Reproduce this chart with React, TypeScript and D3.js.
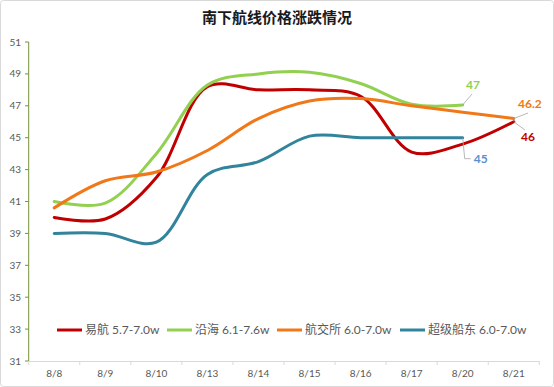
import React, { useRef, useEffect } from "react";
import * as d3 from "d3";

const categories = ["8/8", "8/9", "8/10", "8/13", "8/14", "8/15", "8/16", "8/17", "8/20", "8/21"];
const yTicks = [31, 33, 35, 37, 39, 41, 43, 45, 47, 49, 51];

const yihang = [40, 39.9, 42.5, 48.2, 48, 48, 47.6, 44.1, 44.6, 46];
const yanhai = [41, 40.9, 44, 48.3, 49, 49.1, 48.4, 47.1, 47.05, null];
const hangjiaosuo = [40.6, 42.3, 42.85, 44.2, 46.2, 47.3, 47.45, 47, 46.6, 46.2];
const chaoji = [39, 39, 38.45, 42.7, 43.5, 45.1, 45, 45, 45, null];

const seriesNames = ["易航 5.7-7.0w", "沿海 6.1-7.6w", "航交所 6.0-7.0w", "超级船东 6.0-7.0w"];
const seriesColors = ["#c00000", "#92d050", "#f07818", "#31849b"];

const W = 554;
const H = 387;
const font = "Lato, 'Noto Sans CJK SC', sans-serif";

const App = () => {
  const ref = useRef<SVGSVGElement>(null);

  useEffect(() => {
    const svg = d3.select(ref.current);
    svg.selectAll("*").remove();

    const x = d3.scaleBand().domain(categories).range([28.7, 539.3]);
    const y = d3.scaleLinear().domain([31, 51]).range([361, 42]);
    const cx = (c: string) => (x(c) as number) + x.bandwidth() / 2;

    svg.append("rect").attr("x", 0.5).attr("y", 0.5).attr("width", W - 1).attr("height", H - 1)
      .attr("rx", 3).attr("fill", "#fff").attr("stroke", "#d9d9d9");

    svg.append("text").attr("x", 277).attr("y", 23).attr("text-anchor", "middle")
      .attr("font-family", font).attr("font-weight", "bold").attr("font-size", 15)
      .attr("fill", "#1a1a1a").text("南下航线价格涨跌情况");

    // y axis
    svg.append("line").attr("x1", 28.7).attr("x2", 28.7).attr("y1", 42).attr("y2", 361)
      .attr("stroke", "#77933c").attr("stroke-width", 1);
    const yg = svg.append("g");
    yTicks.forEach((t) => {
      yg.append("line").attr("x1", 25).attr("x2", 28.7).attr("y1", y(t)).attr("y2", y(t))
        .attr("stroke", "#77933c");
      yg.append("text").attr("x", 21).attr("y", y(t)).attr("dy", "0.35em").attr("text-anchor", "end")
        .attr("font-family", font).attr("font-size", 10).attr("fill", "#595959").text(t);
    });

    // x axis
    svg.append("line").attr("x1", 28.7).attr("x2", 539.3).attr("y1", 361.5).attr("y2", 361.5)
      .attr("stroke", "#d9d9d9");
    const edges = categories.map((c) => x(c) as number).concat([539.3]);
    edges.forEach((e) => {
      svg.append("line").attr("x1", e).attr("x2", e).attr("y1", 361).attr("y2", 365)
        .attr("stroke", "#d9d9d9");
    });
    categories.forEach((c) => {
      svg.append("text").attr("x", cx(c)).attr("y", 377).attr("text-anchor", "middle")
        .attr("font-family", font).attr("font-size", 10).attr("fill", "#595959").text(c);
    });

    const line = d3.line<[string, number | null]>()
      .defined((d) => d[1] !== null)
      .x((d) => cx(d[0]))
      .y((d) => y(d[1] as number))
      .curve(d3.curveCatmullRom.alpha(0.5));

    [yihang, yanhai, hangjiaosuo, chaoji].forEach((vals, i) => {
      const pts = categories.map((c, j) => [c, vals[j]] as [string, number | null]);
      svg.append("path").attr("d", line(pts)).attr("fill", "none")
        .attr("stroke", seriesColors[i]).attr("stroke-width", 3).attr("stroke-linecap", "round");
    });

    // data labels with leader lines
    const labels = [
      { cat: "8/20", v: yanhai[8] as number, text: "47", color: "#92d050", lx: 472, ly: 94, tx: 466, ty: 89 },
      { cat: "8/21", v: hangjiaosuo[9], text: "46.2", color: "#f07818", lx: 528, ly: 113, tx: 518, ty: 108 },
      { cat: "8/21", v: yihang[9], text: "46", color: "#c00000", lx: 525, ly: 130, tx: 521, ty: 141 },
    ];
    labels.forEach((l) => {
      svg.append("line").attr("x1", cx(l.cat)).attr("y1", y(l.v)).attr("x2", l.lx).attr("y2", l.ly)
        .attr("stroke", "#a6a6a6").attr("stroke-width", 0.8);
      svg.append("text").attr("x", l.tx).attr("y", l.ty).attr("font-family", font)
        .attr("font-weight", "bold").attr("font-size", 12).attr("fill", l.color).text(l.text);
    });
    const p45x = cx("8/20");
    const p45y = y(chaoji[8] as number);
    svg.append("path").attr("d", `M${p45x},${p45y}L${p45x + 2},${p45y + 21}L${p45x + 8},${p45y + 21}`)
      .attr("fill", "none").attr("stroke", "#a6a6a6").attr("stroke-width", 0.8);
    svg.append("text").attr("x", p45x + 11).attr("y", p45y + 25).attr("font-family", font)
      .attr("font-weight", "bold").attr("font-size", 12).attr("fill", "#5b8fd0").text("45");

    // legend
    const legendX = [57, 167, 277, 400];
    seriesNames.forEach((n, i) => {
      svg.append("line").attr("x1", legendX[i]).attr("x2", legendX[i] + 25).attr("y1", 330).attr("y2", 330)
        .attr("stroke", seriesColors[i]).attr("stroke-width", 3);
      svg.append("text").attr("x", legendX[i] + 28).attr("y", 330).attr("dy", "0.35em")
        .attr("font-family", font).attr("font-size", 12).attr("fill", "#595959").text(n);
    });
  }, []);

  return (
    <div style={{ position: "absolute", left: 0, top: 0 }}>
      <svg ref={ref} width={W} height={H} />
    </div>
  );
};

export default App;
